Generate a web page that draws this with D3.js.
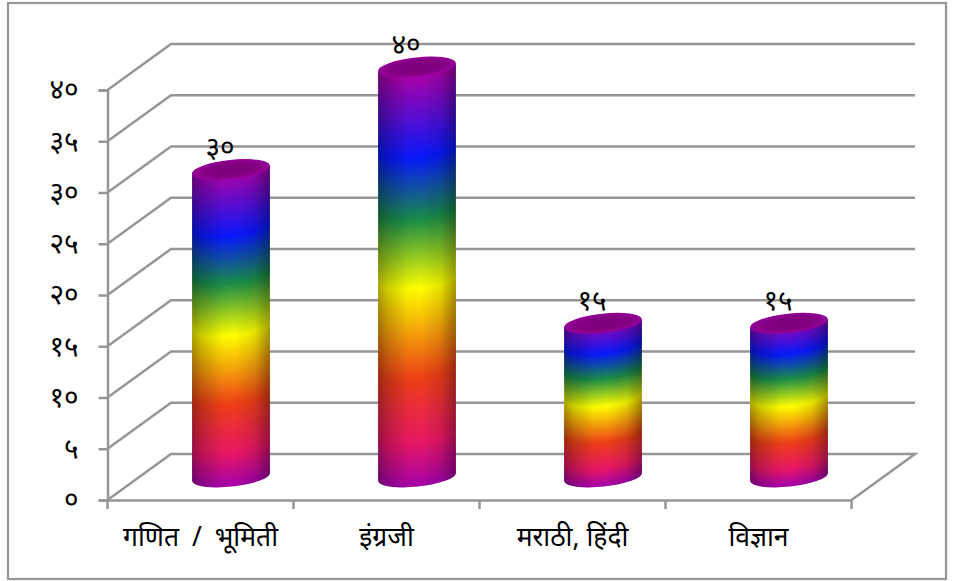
<!DOCTYPE html>
<html>
<head>
<meta charset="utf-8">
<script src="https://cdn.jsdelivr.net/npm/d3@7"></script>
<style>
  html, body { margin: 0; padding: 0; background: #fff; }
  text { fill: #000; font-family: "Noto Sans", "Noto Sans Devanagari", "Lohit Devanagari", serif; }
</style>
</head>
<body>
<div id="viz"></div>
<script>
const categories = ["गणित / भूमिती", "इंग्रजी", "मराठी, हिंदी", "विज्ञान"];
const values = [30, 40, 15, 15];
const valueLabels = ["३०", "४०", "१५", "१५"];
const yTicks = [0, 5, 10, 15, 20, 25, 30, 35, 40];
const yTickLabels = ["०", "५", "१०", "१५", "२०", "२५", "३०", "३५", "४०"];
const rainbowOffsets = [0.05, 0.235, 0.38, 0.54, 0.75, 0.9, 1];
const rainbowColors = ["#a603ab", "#0819fb", "#1a8d48", "#ffff00", "#ee3f17", "#e81766", "#a603ab"];

const width = 956, height = 581;
const grey = "#969696";
const depthX = 63.5, depthY = 46;   // how far the back wall sits from the front

const svg = d3.select("#viz").append("svg")
    .attr("width", width)
    .attr("height", height)
    .style("display", "block");

svg.append("rect")
    .attr("x", 8).attr("y", 3)
    .attr("width", 938).attr("height", 576)
    .attr("fill", "#fff")
    .attr("stroke", grey)
    .attr("stroke-width", 2.2);

const xScale = d3.scaleBand().domain(categories).range([107.5, 851.5]);
const yScale = d3.scaleLinear().domain([0, 40]).range([500, 90]);
const color = d3.scaleLinear().domain(rainbowOffsets).range(rainbowColors).clamp(true);

// walls: one polyline per tick, front edge to back wall to the right side
const wall = svg.append("g").attr("fill", "none").attr("stroke", grey).attr("stroke-width", 2.5);
wall.selectAll("path")
    .data(yTicks)
    .enter().append("path")
    .attr("d", d => {
        const p = d3.path();
        p.moveTo(xScale.range()[0], yScale(d));
        p.lineTo(xScale.range()[0] + depthX, yScale(d) - depthY);
        p.lineTo(xScale.range()[1] + depthX, yScale(d) - depthY);
        if (d === 0) p.lineTo(xScale.range()[1], yScale(d));
        return p;
    });

// axes
const yAxis = d3.axisLeft(yScale)
    .tickValues(yTicks)
    .tickSize(9)
    .tickPadding(20)
    .tickFormat((d, i) => yTickLabels[i]);

const yAxisGroup = svg.append("g")
    .attr("transform", "translate(" + xScale.range()[0] + ",0)")
    .call(yAxis);

const xAxis = d3.axisBottom(xScale).tickSize(0).tickPadding(27);
const xAxisGroup = svg.append("g")
    .attr("transform", "translate(0," + yScale(0) + ")")
    .call(xAxis);

xAxisGroup.selectAll(".tick").attr("transform", d => "translate(" + (xScale(d) + xScale.bandwidth() / 2) + ",0)");

// band edge ticks, the axis only places them at band centres
xAxisGroup.selectAll(".edge")
    .data(d3.range(categories.length + 1))
    .enter().append("line")
    .attr("class", "edge")
    .attr("x1", i => xScale.range()[0] + i * xScale.step())
    .attr("x2", i => xScale.range()[0] + i * xScale.step())
    .attr("y1", 0).attr("y2", 9);

svg.selectAll(".domain, .tick line, .edge")
    .attr("stroke", grey)
    .attr("stroke-width", 2.5);

yAxisGroup.selectAll("text").style("font-size", "28px").attr("font-family", null);
xAxisGroup.selectAll("text")
    .style("font-size", "26.5px")
    .style("word-spacing", d => d === categories[0] ? "6px" : null)
    .attr("font-family", null);

// side shading for the cylinders
const defs = svg.append("defs");
const shade = defs.append("linearGradient").attr("id", "shade");
shade.selectAll("stop")
    .data([[0, 0.34], [0.12, 0.2], [0.38, 0.02], [0.55, 0], [0.8, 0.1], [1, 0.36]])
    .enter().append("stop")
    .attr("offset", d => d[0])
    .attr("stop-color", "#000")
    .attr("stop-opacity", d => d[1]);

const capFill = defs.append("radialGradient").attr("id", "capFill");
capFill.append("stop").attr("offset", 0).attr("stop-color", "#7c0079");
capFill.append("stop").attr("offset", 0.7).attr("stop-color", "#840082");
capFill.append("stop").attr("offset", 1).attr("stop-color", "#96009a");

// cylinders
const rx = 39, ry = 9.6, tilt = -6;
const offX = 30.5, offY = -23;   // cylinder sits part way into the floor
const tanX = 38.9, tanY = 3.9;   // where the sides meet the tilted ellipse

const bars = svg.selectAll(".bar")
    .data(categories)
    .enter().append("g")
    .attr("class", "bar")
    .attr("transform", d => "translate(" + (xScale(d) + xScale.bandwidth() / 2 + offX) + ",0)");

bars.each(function(d, i) {
    const g = d3.select(this);
    const base = yScale(0) + offY;
    const top = yScale(values[i]) + offY;
    const span = base + ry - (top - ry);

    // stacked tilted ellipses, so the colour bands follow the round of the body
    const steps = d3.range(base, top, -1);
    g.selectAll(".slice")
        .data(steps)
        .enter().append("ellipse")
        .attr("class", "slice")
        .attr("rx", rx).attr("ry", ry)
        .attr("transform", y => "translate(0," + y + ") rotate(" + tilt + ")")
        .attr("fill", y => color((y + ry - (top - ry)) / span));

    const body = "M" + (-tanX) + "," + (top + tanY)
        + "L" + (-tanX) + "," + (base + tanY)
        + "A" + rx + "," + ry + "," + tilt + ",0,0," + tanX + "," + (base - tanY)
        + "L" + tanX + "," + (top - tanY)
        + "A" + rx + "," + ry + "," + tilt + ",0,1," + (-tanX) + "," + (top + tanY) + "Z";
    g.append("path").attr("d", body).attr("fill", "url(#shade)");

    g.append("ellipse")
        .attr("rx", rx).attr("ry", ry)
        .attr("transform", "translate(0," + top + ") rotate(" + tilt + ")")
        .attr("fill", "url(#capFill)");

    g.append("text")
        .attr("x", -11)
        .attr("y", top - 13)
        .attr("text-anchor", "middle")
        .style("font-size", "28px")
        .text(valueLabels[i]);
});
</script>
</body>
</html>
